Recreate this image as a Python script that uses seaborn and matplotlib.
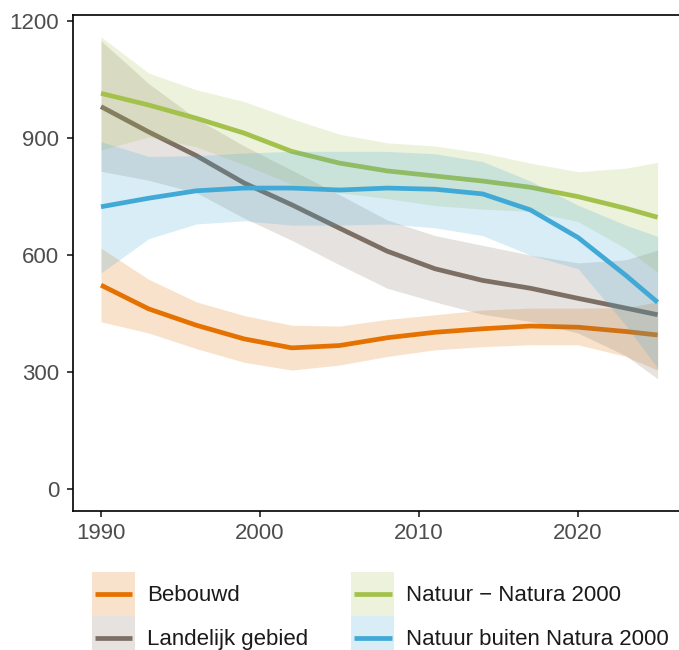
import numpy as np
import pandas as pd
import matplotlib
matplotlib.use("Agg")
import matplotlib.pyplot as plt
import seaborn as sns
from matplotlib.patches import Rectangle
from matplotlib.lines import Line2D
from matplotlib.legend_handler import HandlerBase

# ---- data ----
years = [1990, 1993, 1996, 1999, 2002, 2005, 2008, 2011, 2014, 2017, 2020, 2023, 2025]

bebouwd = [523, 462, 420, 385, 362, 368, 388, 402, 411, 418, 415, 404, 395]
bebouwd_hi = [618, 538, 480, 445, 420, 418, 435, 447, 459, 464, 464, 465, 480]
bebouwd_lo = [429, 400, 360, 325, 305, 318, 340, 357, 365, 370, 370, 340, 305]

landelijk = [981, 916, 855, 785, 729, 669, 610, 565, 535, 515, 489, 464, 447]
landelijk_hi = [1150, 1040, 950, 880, 818, 755, 690, 650, 625, 600, 580, 588, 613]
landelijk_lo = [815, 792, 760, 695, 638, 575, 515, 480, 448, 430, 400, 342, 283]

natura = [1015, 985, 951, 913, 866, 836, 816, 803, 790, 774, 750, 720, 697]
natura_hi = [1160, 1067, 1024, 994, 950, 910, 888, 880, 862, 836, 814, 823, 838]
natura_lo = [870, 903, 878, 832, 782, 760, 745, 727, 718, 712, 686, 617, 556]

buiten = [724, 746, 765, 772, 772, 767, 772, 769, 757, 716, 645, 548, 479]
buiten_hi = [891, 853, 855, 862, 866, 866, 866, 860, 840, 790, 728, 677, 648]
buiten_lo = [554, 642, 680, 688, 677, 677, 680, 670, 650, 600, 565, 420, 310]

labels = ["Bebouwd", "Landelijk gebied", "Natuur \u2212 Natura 2000", "Natuur buiten Natura 2000"]
colors = ["#E57200", "#7E6F64", "#A4C14B", "#41A9D6"]
x_ticks = [1990, 2000, 2010, 2020]
y_ticks = [0, 300, 600, 900, 1200]

series = [
    (labels[0], bebouwd, bebouwd_lo, bebouwd_hi),
    (labels[1], landelijk, landelijk_lo, landelijk_hi),
    (labels[2], natura, natura_lo, natura_hi),
    (labels[3], buiten, buiten_lo, buiten_hi),
]

rows = []
for name, val, lo, hi in series:
    for yr, v, l, h in zip(years, val, lo, hi):
        rows.append({"jaar": yr, "waarde": v, "lo": l, "hi": h, "gebied": name})
df = pd.DataFrame(rows)


class KeyHandler(HandlerBase):
    """ggplot-like legend key: translucent box with a centred line."""
    def create_artists(self, legend, orig_handle, xdescent, ydescent,
                       width, height, fontsize, trans):
        c = orig_handle.get_color()
        rect = Rectangle((-xdescent, -ydescent), width, height, facecolor=c,
                         alpha=0.2, edgecolor="none", transform=trans)
        yc = -ydescent + height / 2.0
        ln = Line2D([-xdescent + 2, -xdescent + width - 2], [yc, yc], color=c,
                    linewidth=3.4, solid_capstyle="butt", transform=trans)
        return [rect, ln]


# ---- figure ----
sns.set_theme(style="white")
plt.rcParams["font.family"] = ["Liberation Sans", "DejaVu Sans"]

fig = plt.figure(figsize=(6.79, 6.5), dpi=100)
ax = fig.add_axes([73 / 679, 1 - 511 / 650, (684 - 73) / 679, (511 - 15) / 650])

for i, (name, color) in enumerate(zip(labels, colors)):
    sub = df[df["gebied"] == name]
    ax.fill_between(sub["jaar"], sub["lo"], sub["hi"], color=color, alpha=0.2,
                    linewidth=0, zorder=2 + 2 * i)
    sns.lineplot(data=sub, x="jaar", y="waarde", color=color, linewidth=3.4,
                 ax=ax, legend=False, zorder=3 + 2 * i, solid_capstyle="butt")

ax.set_xlim(1988.24, 2026.66)
ax.set_ylim(-56.5, 1216)
ax.set_xticks(x_ticks)
ax.set_yticks(y_ticks)
ax.set_xlabel("")
ax.set_ylabel("")
for s in ax.spines.values():
    s.set_visible(True)
    s.set_color("black")
    s.set_linewidth(1.2)
ax.tick_params(axis="both", which="both", direction="out", length=4.5, width=1.3,
               color="#333333", labelsize=16, labelcolor="#4D4D4D",
               bottom=True, left=True, top=False, right=False)
ax.tick_params(axis="y", pad=5.5)
ax.tick_params(axis="x", pad=4)
ax.grid(False)

handles = [Line2D([], [], color=c) for c in colors]
fig.legend(handles, labels, handler_map={Line2D: KeyHandler()},
           ncol=2, loc="upper left", bbox_to_anchor=(92 / 679, 1 - 572 / 650),
           frameon=False, fontsize=16, handlelength=1.94, handleheight=2.67,
           handletextpad=0.54, columnspacing=1.94, labelspacing=0.0,
           borderpad=0, borderaxespad=0, labelcolor="#1A1A1A")

fig.savefig("out.png", dpi=100)
